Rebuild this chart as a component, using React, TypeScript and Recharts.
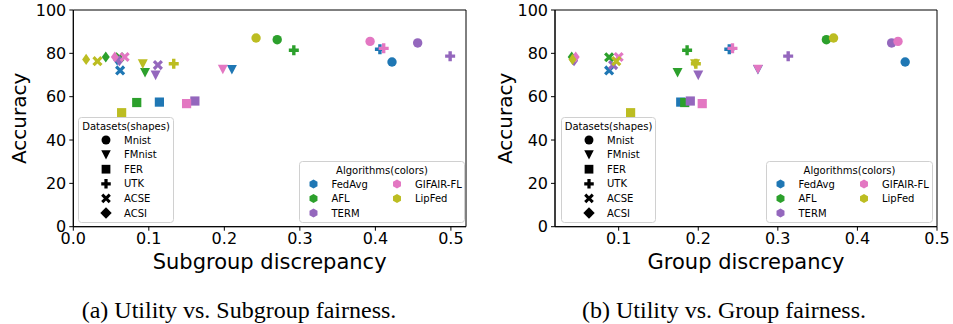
import { ScatterChart, Scatter, XAxis, YAxis, ReferenceArea } from 'recharts';

const datasets = ['Mnist', 'FMnist', 'FER', 'UTK', 'ACSE', 'ACSI'];
const algorithms = ['FedAvg', 'AFL', 'TERM', 'GIFAIR-FL', 'LipFed'];
const algColors = ['#1f77b4', '#2ca02c', '#9467bd', '#e377c2', '#bcbd22'];

// accuracy, in datasets order
const fedAvgAcc = [76.0, 72.6, 57.5, 81.9, 72.1, 77.0];
const aflAcc = [86.3, 71.2, 57.3, 81.4, 78.2, 78.3];
const termAcc = [84.8, 70.0, 58.0, 78.7, 74.6, 76.6];
const gifairAcc = [85.5, 72.7, 56.8, 82.3, 78.3, 78.3];
const lipFedAcc = [87.1, 75.2, 52.6, 75.2, 76.4, 77.2];

// subgroup discrepancy
const fedAvgSub = [0.422, 0.21, 0.114, 0.406, 0.062, 0.058];
const aflSub = [0.27, 0.095, 0.084, 0.292, 0.061, 0.043];
const termSub = [0.456, 0.109, 0.161, 0.499, 0.112, 0.061];
const gifairSub = [0.393, 0.198, 0.15, 0.411, 0.068, 0.055];
const lipFedSub = [0.242, 0.092, 0.064, 0.133, 0.032, 0.017];

// group discrepancy
const fedAvgGrp = [0.46, 0.275, 0.178, 0.239, 0.088, 0.043];
const aflGrp = [0.361, 0.174, 0.183, 0.186, 0.088, 0.041];
const termGrp = [0.443, 0.2, 0.19, 0.313, 0.093, 0.044];
const gifairGrp = [0.451, 0.275, 0.205, 0.243, 0.1, 0.046];
const lipFedGrp = [0.37, 0.196, 0.115, 0.197, 0.097, 0.042];

const subTicks = [0, 0.1, 0.2, 0.3, 0.4, 0.5];
const grpTicks = [0.1, 0.2, 0.3, 0.4, 0.5];
const accTicks = [0, 20, 40, 60, 80, 100];

const accuracy = [fedAvgAcc, aflAcc, termAcc, gifairAcc, lipFedAcc];
const subgroup = [fedAvgSub, aflSub, termSub, gifairSub, lipFedSub];
const group = [fedAvgGrp, aflGrp, termGrp, gifairGrp, lipFedGrp];

const FONT = '"DejaVu Sans", sans-serif';

function plusPoints(a: number, t: number) {
  return [
    [-t, -a], [t, -a], [t, -t], [a, -t], [a, t], [t, t],
    [t, a], [-t, a], [-t, t], [-a, t], [-a, -t], [-t, -t],
  ].map((p) => p.join(',')).join(' ');
}

function Marker({ cx, cy, kind, color, k = 1, legend = false }: { cx: number; cy: number; kind: string; color: string; k?: number; legend?: boolean }) {
  const tr = `translate(${cx},${cy}) scale(${k})`;
  switch (kind) {
    case 'Mnist':
      return <circle cx={cx} cy={cy} r={4.7 * k} fill={color} />;
    case 'FMnist':
      return <polygon transform={tr} points="-5,-4.5 5,-4.5 0,5.2" fill={color} />;
    case 'FER':
      return <rect x={cx - 4.6 * k} y={cy - 4.6 * k} width={9.2 * k} height={9.2 * k} fill={color} />;
    case 'UTK':
      return <polygon transform={tr} points={plusPoints(5, 1.7)} fill={color} />;
    case 'ACSE':
      return <polygon transform={`${tr} rotate(45)`} points={plusPoints(5.6, 1.6)} fill={color} />;
    case 'ACSI':
      return legend
        ? <polygon transform={tr} points="0,-6 6,0 0,6 -6,0" fill={color} />
        : <polygon transform={tr} points="0,-5.6 4,0 0,5.6 -4,0" fill={color} />;
    default:
      return null;
  }
}

function hexagon(cx: number, cy: number, r: number) {
  const pts = [];
  for (let i = 0; i < 6; i++) {
    const a = (Math.PI / 180) * (90 + 60 * i);
    pts.push(`${cx + r * Math.cos(a)},${cy - r * Math.sin(a)}`);
  }
  return pts.join(' ');
}

function ShapesLegend({ left, top, width }: { left: number; top: number; width: number }) {
  const h = 105;
  return (
    <svg style={{ position: 'absolute', left, top }} width={width + 2} height={h + 2}>
      <rect x={0.5} y={0.5} width={width} height={h} rx={3} fill="#fff" fillOpacity={0.8} stroke="#d0d0d0" />
      <text x={width / 2 + 0.5} y={9} textAnchor="middle" dominantBaseline="central" fontFamily={FONT} fontSize={10} fill="#000">
        Datasets(shapes)
      </text>
      {datasets.map((d, i) => (
        <g key={d}>
          <Marker cx={28} cy={23 + i * 14.6} kind={d} color="#000" k={0.95} legend />
          <text x={46} y={23 + i * 14.6} dominantBaseline="central" fontFamily={FONT} fontSize={10} fill="#000">
            {d}
          </text>
        </g>
      ))}
    </svg>
  );
}

function ColorsLegend({ left, top, width }: { left: number; top: number; width: number }) {
  const h = 61;
  return (
    <svg style={{ position: 'absolute', left, top }} width={width + 2} height={h + 2}>
      <rect x={0.5} y={0.5} width={width} height={h} rx={3} fill="#fff" fillOpacity={0.8} stroke="#d0d0d0" />
      <text x={width / 2 + 0.5} y={9} textAnchor="middle" dominantBaseline="central" fontFamily={FONT} fontSize={10} fill="#000">
        Algorithms(colors)
      </text>
      {algorithms.map((a, i) => {
        const col = i < 3 ? 0 : 1;
        const row = i < 3 ? i : i - 3;
        const mx = col === 0 ? 14.5 : 98;
        const cy = 23 + row * 14.5;
        return (
          <g key={a}>
            <polygon points={hexagon(mx, cy, 4.6)} fill={algColors[i]} />
            <text x={mx + 18} y={cy} dominantBaseline="central" fontFamily={FONT} fontSize={10} fill="#000">
              {a}
            </text>
          </g>
        );
      })}
    </svg>
  );
}

interface PanelProps {
  xs: number[][];
  domain: [number, number];
  ticks: number[];
  xLabel: string;
  width: number;
  marginRight: number;
  yAxisWidth: number;
  yLabelOffset: number;
}

function Panel({ xs, domain, ticks, xLabel, width, marginRight, yAxisWidth, yLabelOffset }: PanelProps) {
  return (
    <ScatterChart
      width={width}
      height={280}
      margin={{ top: 10, right: marginRight, left: 0, bottom: 0 }}
      style={{ fontFamily: FONT }}
    >
      <XAxis
        type="number"
        dataKey="x"
        domain={domain}
        ticks={ticks}
        allowDataOverflow
        tickFormatter={(v: number) => v.toFixed(1)}
        height={53.3}
        tickSize={4}
        tickMargin={2}
        stroke="#000"
        tick={{ fill: '#000', fontSize: 16 }}
        label={{ value: xLabel, position: 'insideBottom', offset: 11, fill: '#000', fontSize: 21 }}
      />
      <YAxis
        type="number"
        dataKey="y"
        domain={[0, 100]}
        ticks={accTicks}
        width={yAxisWidth}
        tickSize={4}
        tickMargin={3}
        stroke="#000"
        tick={{ fill: '#000', fontSize: 16 }}
        label={{
          value: 'Accuracy',
          angle: -90,
          position: 'insideLeft',
          offset: yLabelOffset,
          fill: '#000',
          fontSize: 20,
          style: { textAnchor: 'middle' },
        }}
      />
      <ReferenceArea x1={domain[0]} x2={domain[1]} y1={0} y2={100} fill="none" fillOpacity={0} stroke="#000" strokeWidth={1} />
      {algorithms.map((name, a) => (
        <Scatter
          key={name}
          name={name}
          isAnimationActive={false}
          data={datasets.map((ds, i) => ({ x: xs[a][i], y: accuracy[a][i], ds }))}
          shape={(p: any) => <Marker cx={p.cx} cy={p.cy} kind={p.payload.ds} color={algColors[a]} />}
        />
      ))}
    </ScatterChart>
  );
}

const captionStyle = {
  position: 'absolute' as const,
  top: 297,
  textAlign: 'center' as const,
  fontFamily: '"Liberation Serif", serif',
  fontSize: 24,
  lineHeight: '26px',
  whiteSpace: 'nowrap' as const,
};

export default function App() {
  return (
    <div style={{ position: 'absolute', left: 0, top: 0, width: 953, height: 324, background: '#fff' }}>
      <div style={{ position: 'absolute', left: 0, top: 0 }}>
        <Panel xs={subgroup} domain={[0, 0.52]} ticks={subTicks} xLabel="Subgroup discrepancy" width={480} marginRight={14} yAxisWidth={73.3} yLabelOffset={19} />
      </div>
      <div style={{ position: 'absolute', left: 480, top: 0 }}>
        <Panel xs={group} domain={[0.02, 0.5]} ticks={grpTicks} xLabel="Group discrepancy" width={473} marginRight={16} yAxisWidth={75} yLabelOffset={25} />
      </div>
      <ShapesLegend left={78} top={117} width={95} />
      <ColorsLegend left={299} top={161} width={165} />
      <ShapesLegend left={561} top={117} width={94} />
      <ColorsLegend left={766} top={161} width={166} />
      <div style={{ ...captionStyle, left: 0, width: 478 }}>(a) Utility vs. Subgroup fairness.</div>
      <div style={{ ...captionStyle, left: 480, width: 488 }}>(b) Utility vs. Group fairness.</div>
    </div>
  );
}
